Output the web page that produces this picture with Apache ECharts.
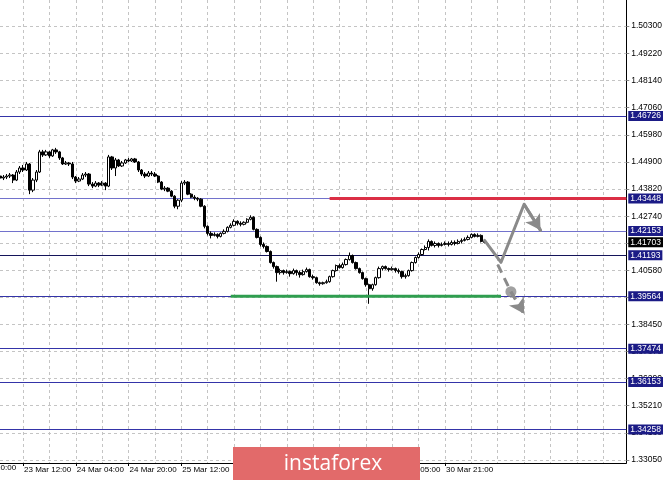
<!DOCTYPE html>
<html><head><meta charset="utf-8">
<script src="https://cdn.jsdelivr.net/npm/echarts@6/dist/echarts.min.js"></script>
<style>html,body{margin:0;padding:0;background:#fff}#c{width:665px;height:480px}</style>
</head><body><div id="c"></div>
<script>
// ---- candle data (hourly) ----
const opens = [1.4434,1.4426,1.4430,1.4434,1.4438,1.4418,1.4450,1.4466,1.4458,1.4482,
1.4378,1.4418,1.4450,1.4530,1.4518,1.4530,1.4514,1.4538,1.4530,1.4506,
1.4482,1.4486,1.4482,1.4430,1.4414,1.4422,1.4438,1.4442,1.4402,1.4394,
1.4406,1.4398,1.4406,1.4394,1.4510,1.4466,1.4498,1.4474,1.4486,1.4498,
1.4494,1.4502,1.4490,1.4458,1.4442,1.4434,1.4446,1.4442,1.4434,1.4410,
1.4382,1.4386,1.4374,1.4354,1.4314,1.4338,1.4406,1.4410,1.4362,1.4350,
1.4346,1.4342,1.4314,1.4234,1.4206,1.4198,1.4202,1.4194,1.4206,1.4214,
1.4230,1.4238,1.4254,1.4246,1.4242,1.4250,1.4262,1.4270,1.4222,1.4190,
1.4162,1.4154,1.4134,1.4090,1.4074,1.4050,1.4058,1.4050,1.4054,1.4046,
1.4058,1.4050,1.4042,1.4054,1.4062,1.4034,1.4030,1.4010,1.4006,1.4010,
1.4014,1.4034,1.4058,1.4078,1.4070,1.4082,1.4102,1.4118,1.4090,1.4066,
1.4050,1.4026,1.4002,1.3986,1.4002,1.4030,1.4066,1.4074,1.4066,1.4062,
1.4066,1.4058,1.4054,1.4034,1.4038,1.4058,1.4090,1.4110,1.4122,1.4142,
1.4150,1.4174,1.4158,1.4166,1.4158,1.4162,1.4166,1.4162,1.4170,1.4166,
1.4174,1.4178,1.4182,1.4190,1.4202,1.4194,1.4198,1.4174];
const closes = [1.4426,1.4430,1.4434,1.4438,1.4418,1.4450,1.4466,1.4458,1.4482,1.4378,
1.4418,1.4450,1.4530,1.4518,1.4530,1.4514,1.4538,1.4530,1.4506,1.4482,
1.4486,1.4482,1.4430,1.4414,1.4422,1.4438,1.4442,1.4402,1.4394,1.4406,
1.4398,1.4406,1.4394,1.4510,1.4466,1.4498,1.4474,1.4486,1.4498,1.4494,
1.4502,1.4490,1.4458,1.4442,1.4434,1.4446,1.4442,1.4434,1.4410,1.4382,
1.4386,1.4374,1.4354,1.4314,1.4338,1.4406,1.4410,1.4362,1.4350,1.4346,
1.4342,1.4314,1.4234,1.4206,1.4198,1.4202,1.4194,1.4206,1.4214,1.4230,
1.4238,1.4254,1.4246,1.4242,1.4250,1.4262,1.4270,1.4222,1.4190,1.4162,
1.4154,1.4134,1.4090,1.4074,1.4050,1.4058,1.4050,1.4054,1.4046,1.4058,
1.4050,1.4042,1.4054,1.4062,1.4034,1.4030,1.4010,1.4006,1.4010,1.4014,
1.4034,1.4058,1.4078,1.4070,1.4082,1.4102,1.4118,1.4090,1.4066,1.4050,
1.4026,1.4002,1.3986,1.4002,1.4030,1.4066,1.4074,1.4066,1.4062,1.4066,
1.4058,1.4054,1.4034,1.4038,1.4058,1.4090,1.4110,1.4122,1.4142,1.4150,
1.4174,1.4158,1.4166,1.4158,1.4162,1.4166,1.4162,1.4170,1.4166,1.4174,
1.4178,1.4182,1.4190,1.4202,1.4194,1.4198,1.4174,1.41703];
const lows = [1.4418,1.4418,1.4422,1.4426,1.4406,1.4414,1.4442,1.4450,1.4454,1.4362,
1.4370,1.4410,1.4446,1.4510,1.4514,1.4506,1.4510,1.4522,1.4498,1.4478,
1.4478,1.4474,1.4422,1.4406,1.4410,1.4418,1.4430,1.4394,1.4386,1.4390,
1.4390,1.4394,1.4378,1.4390,1.4458,1.4434,1.4470,1.4470,1.4482,1.4490,
1.4490,1.4486,1.4450,1.4434,1.4426,1.4430,1.4434,1.4430,1.4406,1.4378,
1.4374,1.4370,1.4350,1.4306,1.4302,1.4330,1.4398,1.4358,1.4346,1.4338,
1.4334,1.4310,1.4226,1.4198,1.4186,1.4194,1.4186,1.4190,1.4202,1.4210,
1.4226,1.4234,1.4238,1.4234,1.4238,1.4246,1.4258,1.4218,1.4186,1.4154,
1.4146,1.4130,1.4086,1.4066,1.4014,1.4042,1.4042,1.4046,1.4034,1.4042,
1.4038,1.4030,1.4038,1.4050,1.4030,1.4022,1.4006,1.3998,1.4002,1.4006,
1.4010,1.4030,1.4054,1.4066,1.4066,1.4078,1.4098,1.4086,1.4062,1.4046,
1.4022,1.3994,1.3926,1.3978,1.3998,1.4026,1.4058,1.4062,1.4054,1.4058,
1.4050,1.4046,1.4026,1.4026,1.4034,1.4054,1.4086,1.4106,1.4118,1.4138,
1.4138,1.4154,1.4150,1.4150,1.4154,1.4158,1.4154,1.4158,1.4158,1.4162,
1.4166,1.4174,1.4178,1.4186,1.4190,1.4190,1.4170,1.4166];
const highs = [1.4442,1.4438,1.4442,1.4446,1.4442,1.4458,1.4474,1.4478,1.4490,1.4486,
1.4426,1.4458,1.4538,1.4538,1.4538,1.4534,1.4542,1.4546,1.4534,1.4510,
1.4494,1.4490,1.4490,1.4434,1.4430,1.4446,1.4450,1.4446,1.4410,1.4414,
1.4410,1.4414,1.4410,1.4518,1.4514,1.4506,1.4502,1.4494,1.4502,1.4506,
1.4506,1.4506,1.4494,1.4462,1.4450,1.4454,1.4454,1.4450,1.4438,1.4414,
1.4394,1.4390,1.4378,1.4358,1.4342,1.4414,1.4418,1.4414,1.4366,1.4358,
1.4350,1.4346,1.4318,1.4238,1.4214,1.4210,1.4206,1.4210,1.4222,1.4234,
1.4246,1.4262,1.4258,1.4254,1.4254,1.4266,1.4278,1.4274,1.4226,1.4194,
1.4170,1.4158,1.4138,1.4094,1.4078,1.4066,1.4062,1.4062,1.4058,1.4066,
1.4062,1.4058,1.4062,1.4070,1.4066,1.4042,1.4034,1.4014,1.4014,1.4022,
1.4038,1.4062,1.4082,1.4086,1.4090,1.4106,1.4130,1.4122,1.4094,1.4070,
1.4054,1.4030,1.4006,1.4006,1.4034,1.4074,1.4078,1.4078,1.4070,1.4074,
1.4070,1.4066,1.4058,1.4046,1.4062,1.4094,1.4114,1.4130,1.4146,1.4158,
1.4182,1.4178,1.4174,1.4170,1.4170,1.4174,1.4174,1.4178,1.4178,1.4182,
1.4186,1.4190,1.4198,1.4206,1.4206,1.4206,1.4202,1.4178];

// ---- levels & annotations ----
const levelPrices = [1.46726, 1.43448, 1.42153, 1.41193, 1.39564, 1.37474, 1.36153, 1.34258];
const lightLevels = [1.43448, 1.42153];
const darkLevels = [1.41193];
const currentPrice = 1.41703;
const priceTicks = [1.33050,1.34130,1.35210,1.36290,1.37370,1.38450,1.39515,1.40580,1.41660,1.42740,1.43820,1.44900,1.45980,1.47060,1.48140,1.49220,1.50300];
const resistanceSeg = [[100, 1.43448], [190, 1.43448]];
const supportSeg = [[70, 1.39564], [152, 1.39564]];
const forecastUp = [[147, 1.4178], [152, 1.4091], [159, 1.4322], [164, 1.4218]];
const forecastDown = [[151, 1.4082], [155, 1.3974], [159, 1.3886]];
const forecastDot = [[155, 1.3974]];

// ---- hourly time categories ----
const sessions = [['23 Mar',5,23],['24 Mar',0,23],['25 Mar',0,23],['26 Mar',0,23],['27 Mar',0,23],['30 Mar',1,23],['31 Mar',0,23],['1 Apr',0,23],['2 Apr',0,23]];
const categories = [];
for (const [d, h0, h1] of sessions) for (let h = h0; h <= h1; h++) categories.push(d + ' ' + String(h).padStart(2,'0') + ':00');
categories.length = 191;

const candleData = opens.map((o, i) => [o, closes[i], lows[i], highs[i]]);
const lastBar = opens.length - 1;
const FONT = 'Liberation Sans';
const chart = echarts.init(document.getElementById('c'));

const levelLines = levelPrices.map(v => ({
  yAxis: v,
  lineStyle: { color: lightLevels.includes(v) ? '#7272cc' : (darkLevels.includes(v) ? '#14145a' : '#3434a8'), width: 1, type: 'solid' },
  label: { backgroundColor: '#1b1b86' }
}));
levelLines.push({ yAxis: currentPrice, lineStyle: { color: 'rgba(0,0,0,0)', width: 1 }, label: { backgroundColor: '#000' } });

chart.setOption({
  animation: false,
  backgroundColor: '#fff',
  grid: { left: 0, right: 37, top: 0, bottom: 17, containLabel: false },
  xAxis: {
    type: 'category', data: categories, boundaryGap: false,
    axisLine: { show: true, lineStyle: { color: '#000', width: 1 } },
    axisTick: { show: true, length: 3, lineStyle: { color: '#000' }, interval: i => i >= 7 && i <= lastBar && (i - 7) % 16 === 0 },
    axisLabel: { show: true, interval: i => i >= 7 && i <= lastBar && (i - 7) % 16 === 0, align: 'left', margin: 3, padding: [0,0,0,1],
      fontFamily: FONT, fontSize: 8, color: '#000', formatter: v => v },
    splitLine: { show: true, interval: i => i >= 7 && (i - 7) % 8 === 0, lineStyle: { color: '#c4c4c4', type: [3, 3], width: 1 } }
  },
  yAxis: {
    type: 'value', position: 'right', min: 1.3293, max: 1.5134, scale: true,
    axisLine: { show: true, lineStyle: { color: '#000', width: 1 } },
    axisTick: { show: true, length: 3, inside: false, customValues: priceTicks, lineStyle: { color: '#888' } },
    axisLabel: { show: true, customValues: priceTicks, margin: 5, fontFamily: FONT, fontSize: 8.5, color: '#000', formatter: v => v.toFixed(5) },
    splitLine: { show: true, lineStyle: { color: '#c4c4c4', type: [3, 3], width: 1 } }
  },
  graphic: [
    { type: 'text', x: -31, y: 468, silent: true, style: { text: '22 Mar 20:00', font: '8px "Liberation Sans"', fill: '#000', verticalAlign: 'middle' } },
    { type: 'rect', shape: { x: 233, y: 447, width: 187, height: 33 }, style: { fill: '#e26a6a' }, z: 100 },
    { type: 'text', x: 333, y: 464, z: 101, style: { text: 'instaforex', font: '21px "Open Sans"', fill: '#fff', align: 'center', verticalAlign: 'middle' } }
  ],
  series: [
    {
      type: 'candlestick', data: candleData, barWidth: 2.8, z: 3,
      itemStyle: { color: '#fff', color0: '#000', borderColor: '#000', borderColor0: '#000', borderWidth: 1 },
      markLine: {
        silent: true, symbol: ['none', 'none'], animation: false, precision: 5, z: 2,
        label: { show: true, position: 'end', distance: 2, color: '#fff', fontFamily: FONT, fontSize: 8.5, padding: [1, 2, 0, 2],
          formatter: p => Number(p.value).toFixed(5) },
        data: levelLines
      }
    },
    { type: 'line', data: resistanceSeg, symbol: 'none', z: 4, silent: true, lineStyle: { color: '#db2f45', width: 3 } },
    { type: 'line', data: supportSeg, symbol: 'none', z: 4, silent: true, lineStyle: { color: '#2f9e4f', width: 3 } },
    { type: 'line', data: forecastUp, symbol: 'none', z: 5, silent: true, lineStyle: { color: '#8a8a8a', width: 3, cap: 'round', join: 'round' },
      markLine: { silent: true, precision: 5, symbol: ['none', 'arrow'], symbolSize: [13, 15], lineStyle: { color: '#8a8a8a', width: 3, type: 'solid' }, label: { show: false },
        data: [[{ coord: forecastUp[2] }, { coord: forecastUp[3] }]] } },
    { type: 'line', data: forecastDown, symbol: 'none', z: 5, silent: true, lineStyle: { color: '#8a8a8a', width: 3, type: [9, 6] },
      markLine: { silent: true, precision: 5, symbol: ['none', 'arrow'], symbolSize: [13, 15], lineStyle: { color: '#8a8a8a', width: 3, type: [9, 6] }, label: { show: false },
        data: [[{ coord: forecastDown[1] }, { coord: forecastDown[2] }]] } },
    { type: 'scatter', data: forecastDot, symbol: 'circle', symbolSize: 11, z: 6, silent: true, itemStyle: { color: '#8a8a8a' } }
  ]
});
</script></body></html>
